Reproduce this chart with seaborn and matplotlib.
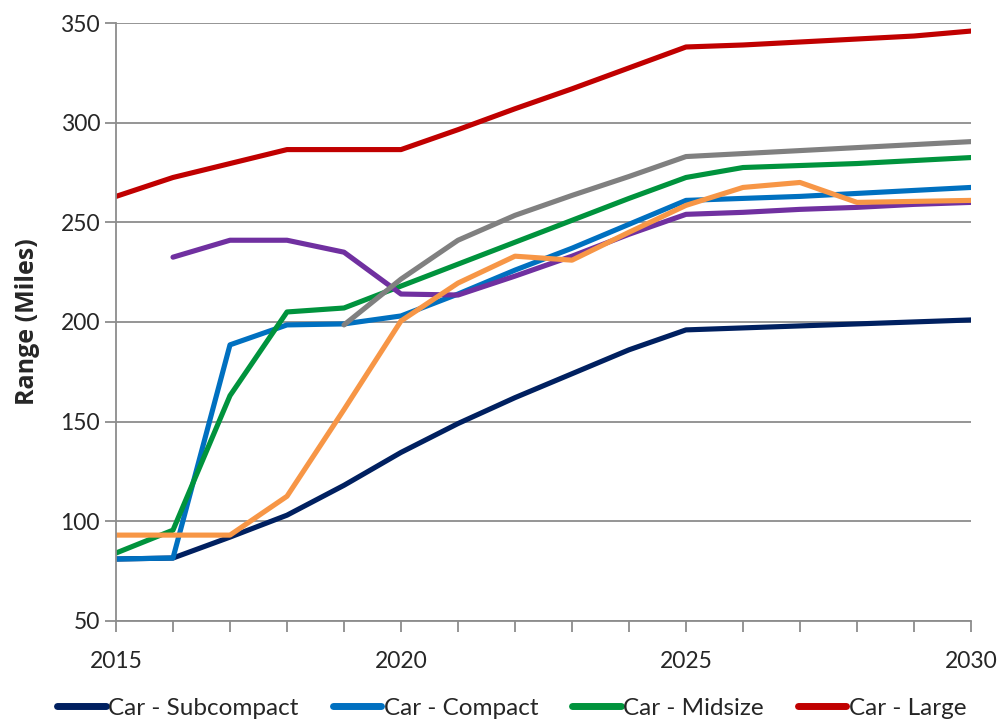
import matplotlib
matplotlib.use("Agg")
import matplotlib.pyplot as plt
import numpy as np
import pandas as pd
import seaborn as sns

nan = np.nan
years = list(range(2015, 2031))

subcompact = [81, 81.5, 92, 103, 118, 134.5, 149, 162, 174, 186, 196, 197, 198, 199, 200, 201]
compact = [81, 81.5, 188.5, 198.5, 199, 203, 214, 226, 237, 249, 261, 262, 263, 264.5, 266, 267.5]
midsize = [84, 95.5, 163, 205, 207, 218, 229, 240, 251, 262, 272.5, 277.5, 278.5, 279.5, 281, 282.5]
large = [263, 272.5, 279.5, 286.5, 286.5, 286.5, 296.5, 307, 317, 327.5, 338, 339, 340.5, 342, 343.5, 346]
suv_small = [nan, 232.5, 241, 241, 235, 214, 213.5, 223, 233, 244, 254, 255, 256.5, 257.5, 259, 260]
suv_mid = [nan, nan, nan, nan, 198.5, 221.5, 241, 253.5, 263.5, 273, 283, 284.5, 286, 287.5, 289, 290.5]
pickup = [93, 93, 93, 112.5, 156, 200.5, 219.5, 233, 231, 245, 258.5, 267.5, 270, 260, 260.5, 261]

series = {
    "Car - Subcompact": subcompact,
    "Car - Compact": compact,
    "Car - Midsize": midsize,
    "Car - Large": large,
    "SUV - Small": suv_small,
    "SUV - Midsize": suv_mid,
    "Pickup": pickup,
}
colors = ["#002060", "#0070C0", "#00933D", "#C00000", "#7030A0", "#808080", "#F79646"]

rows = []
for name, vals in series.items():
    for yr, v in zip(years, vals):
        rows.append({"year": yr, "range": v, "series": name})
df = pd.DataFrame(rows).dropna()

sns.set_style("white")
plt.rcParams["font.family"] = ["Lato", "DejaVu Sans"]

fig = plt.figure(figsize=(10, 7.21), dpi=100)
ax = fig.add_axes([0.116, 0.139, 0.855, 0.829])

sns.lineplot(data=df, x="year", y="range", hue="series", hue_order=list(series.keys()),
             palette=colors, linewidth=3.7, ax=ax, legend=True)

ax.set_xlim(2015, 2030)
ax.set_ylim(50, 350)
ax.set_yticks(range(50, 351, 50))
ax.set_xticks(years, minor=True)
ax.set_xticks([2015, 2020, 2025, 2030])
ax.yaxis.grid(True, color="#8c8c8c", linewidth=1.3)
ax.set_axisbelow(True)
for side in ["top", "right"]:
    ax.spines[side].set_visible(False)
for side in ["left", "bottom"]:
    ax.spines[side].set_color("#8c8c8c")
    ax.spines[side].set_linewidth(1.3)
ax.tick_params(axis="both", which="both", direction="out", color="#8c8c8c", width=1.3,
               length=8, labelsize=16.5, bottom=True, left=True)
ax.tick_params(axis="x", which="both", pad=14)
ax.set_xlabel("")
ax.set_ylabel("Range (Miles)", fontsize=18, fontweight="bold", labelpad=15,
              family=["Open Sans", "DejaVu Sans"])

handles, labels = ax.get_legend_handles_labels()
ax.get_legend().remove()
for h in handles:
    h.set_linewidth(5)
fig.legend(handles[:4], labels[:4], loc="center left", bbox_to_anchor=(0.045, 0.018),
           ncol=4, frameon=False, fontsize=17.5, handlelength=2.0, handletextpad=0.1,
           columnspacing=1.4, borderpad=0)

fig.savefig("out.png", dpi=100)
